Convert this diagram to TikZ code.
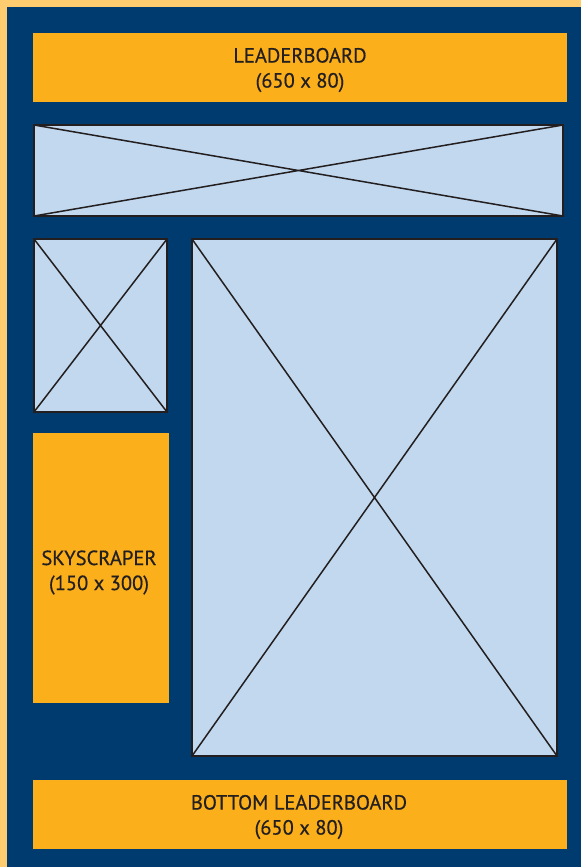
\documentclass[tikz,border=0pt]{standalone}
\usepackage{fontspec}
\setmainfont{PT Sans}[FakeBold=0.6]
\newfontfamily\labelfont{PT Sans}[FakeBold=0.5]
\definecolor{navy}{HTML}{003B70}
\definecolor{gold}{HTML}{FBAF1A}
\definecolor{paleorange}{HTML}{FFCC70}
\definecolor{paleblue}{HTML}{C2D8EE}
\definecolor{ink}{HTML}{231F20}
\begin{document}
\begin{tikzpicture}[x=1pt,y=-1pt,
  adlabel/.style={text=ink,align=center,inner sep=0pt,font=\labelfont\fontsize{20.5}{25}\selectfont},
  imgbox/.style={fill=paleblue,draw=ink,line width=1.8pt},
  crossline/.style={draw=ink,line width=1.5pt}]
\useasboundingbox (0,0) rectangle (581,867);
\fill[paleorange] (0,0) rectangle (581,867);
\fill[navy] (7,7) rectangle (581,867);
% leaderboard
\fill[gold] (33,33) rectangle (567,102);
\node[adlabel] (lead) at (300,70) {LEADERBOARD\\(650 x 80)};
% banner
\draw[imgbox] (34,125) rectangle (563,216);
\coordinate (b1) at (34,125); \coordinate (b2) at (563,216);
\coordinate (b3) at (34,216); \coordinate (b4) at (563,125);
\draw[crossline] (b1) -- (b2) (b3) -- (b4);
% small box
\draw[imgbox] (34,239) rectangle (167,412);
\coordinate (s1) at (34,239); \coordinate (s2) at (167,412);
\coordinate (s3) at (34,412); \coordinate (s4) at (167,239);
\draw[crossline] (s1) -- (s2) (s3) -- (s4);
% big box
\draw[imgbox] (192,239) rectangle (557,756);
\coordinate (g1) at (192,239); \coordinate (g2) at (557,756);
\coordinate (g3) at (192,756); \coordinate (g4) at (557,239);
\draw[crossline] (g1) -- (g2) (g3) -- (g4);
% skyscraper
\fill[gold] (33,433) rectangle (169,703);
\node[adlabel] (sky) at (99,572.5) {SKYSCRAPER\\(150 x 300)};
% bottom leaderboard
\fill[gold] (33,780) rectangle (567,849);
\node[adlabel] (bot) at (299,817) {BOTTOM LEADERBOARD\\(650 x 80)};
\end{tikzpicture}
\end{document}
